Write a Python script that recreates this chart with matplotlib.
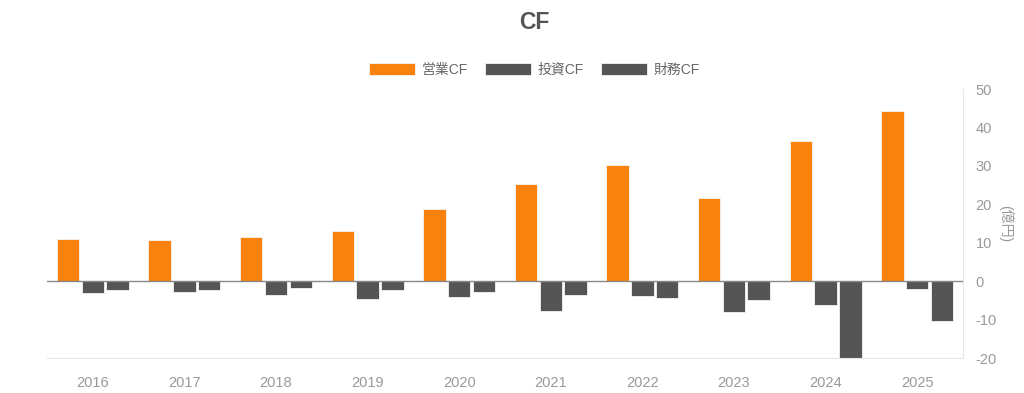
import numpy as np
import matplotlib.pyplot as plt

plt.rcParams["font.family"] = ["Liberation Sans", "Noto Sans CJK JP", "DejaVu Sans"]
plt.rcParams["axes.unicode_minus"] = False

years = ["2016", "2017", "2018", "2019", "2020", "2021", "2022", "2023", "2024", "2025"]
operating_cf = [11.1, 10.6, 11.4, 13.1, 18.7, 25.4, 30.1, 21.6, 36.6, 44.4]
investing_cf = [-3.1, -2.9, -3.6, -4.6, -4.2, -7.8, -3.9, -7.9, -6.3, -2.0]
financing_cf = [-2.4, -2.3, -1.8, -2.3, -2.9, -3.6, -4.3, -4.9, -20.5, -10.3]
labels = ["営業CF", "投資CF", "財務CF"]

orange = "#F8820B"
dark = "#555555"

fig = plt.figure(figsize=(10.24, 3.93), dpi=100)
ax = fig.add_axes([0.0459, 0.089, 0.8945, 0.6845])

x = np.arange(len(years))
w = 0.245
step = 0.27
for vals, off, col, lab in zip(
    [operating_cf, investing_cf, financing_cf], [-step, 0, step], [orange, dark, dark], labels
):
    ax.bar(x + off, vals, width=w, color=col, edgecolor="#f4f4f4", linewidth=0.6, label=lab, zorder=2)

ax.axhline(0, color="#888888", linewidth=1.0, zorder=3)
ax.set_xlim(-0.5, len(years) - 0.5)
ax.set_ylim(-20, 50)
ax.set_xticks(x)
ax.set_xticklabels(years)
ax.set_yticks(np.arange(-20, 51, 10))

ax.yaxis.tick_right()
ax.yaxis.set_label_position("right")
ax.tick_params(axis="both", length=0, colors="#999999", labelsize=10.5)
ax.tick_params(axis="y", pad=9)
ax.tick_params(axis="x", pad=13)
ax.set_ylabel("(億円)", rotation=270, color="#999999", fontsize=10, labelpad=12)

for side in ["top", "left"]:
    ax.spines[side].set_visible(False)
ax.spines["right"].set_color("#e6e6e6")
ax.spines["bottom"].set_color("#e6e6e6")

fig.text(0.522, 0.942, "CF", ha="center", va="center", fontsize=16.5, fontweight="bold", color="#555555")
fig.legend(
    loc="center", bbox_to_anchor=(0.522, 0.822), ncol=3, frameon=False,
    fontsize=10, labelcolor="#666666", handlelength=3.3, handleheight=1.0,
    columnspacing=1.2, handletextpad=0.5,
)

fig.savefig("out.png", dpi=100)
